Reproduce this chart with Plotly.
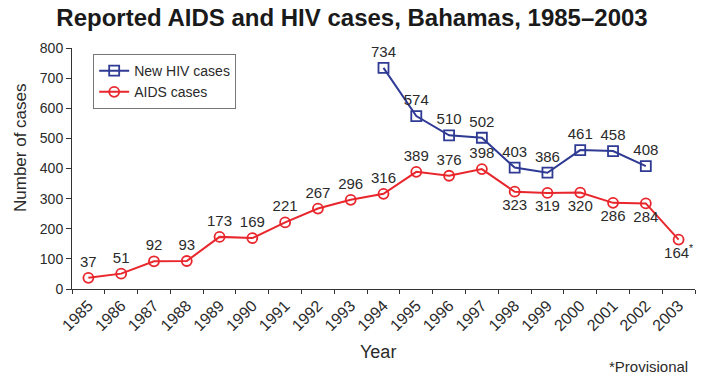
import plotly.graph_objects as go

years = [str(y) for y in range(1985, 2004)]
hiv_years = [str(y) for y in range(1994, 2003)]
hiv_cases = [734, 574, 510, 502, 403, 386, 461, 458, 408]
aids_cases = [37, 51, 92, 93, 173, 169, 221, 267, 296, 316,
              389, 376, 398, 323, 319, 320, 286, 284, 164]

blue = "#2E3A93"
red = "#E8262C"
txt = "#2a2a2a"
font = "Liberation Sans, Arial, sans-serif"

aids_text = [str(v) for v in aids_cases]
aids_text[-1] = aids_text[-1] + "<sup>*</sup>"
aids_pos = ["top center"] * 13 + ["bottom center"] * 6

fig = go.Figure()
fig.add_trace(go.Scatter(
    x=hiv_years, y=hiv_cases, name="New HIV cases",
    mode="lines+markers+text",
    line=dict(color=blue, width=2),
    marker=dict(symbol="square-open", size=10, color=blue, line=dict(width=1.8)),
    text=[str(v) for v in hiv_cases], textposition="top center",
    textfont=dict(family=font, size=15, color=txt),
    cliponaxis=False,
))
fig.add_trace(go.Scatter(
    x=years, y=aids_cases, name="AIDS cases",
    mode="lines+markers+text",
    line=dict(color=red, width=2),
    marker=dict(symbol="circle-open", size=10, color=red, line=dict(width=1.8)),
    text=aids_text, textposition=aids_pos,
    textfont=dict(family=font, size=15, color=txt),
    cliponaxis=False,
))

W, H = 704, 376
L, R, T, B = 72, 9, 48, 87
pw, ph = W - L - R, H - T - B

def px_x(x):
    return (x - L) / pw

def px_y(y):
    return (H - B - y) / ph

fig.update_layout(
    width=W, height=H,
    margin=dict(l=L, r=R, t=T, b=B),
    paper_bgcolor="white", plot_bgcolor="white",
    font=dict(family=font, size=14, color=txt),
    title=dict(text="<b>Reported AIDS and HIV cases, Bahamas, 1985–2003</b>",
               x=0.5, xanchor="center", y=0.952, yanchor="middle",
               font=dict(size=24, color="#1a1a1a")),
    showlegend=True,
    legend=dict(x=0.034, y=0.975, xanchor="left", yanchor="top",
                bordercolor="#777", borderwidth=1, bgcolor="white",
                font=dict(size=14, color=txt), tracegroupgap=0,
                itemwidth=30),
)
fig.update_xaxes(
    type="category", categoryorder="array", categoryarray=years,
    range=[-0.5, 18.5],
    showline=True, linecolor="#333", linewidth=1,
    ticks="outside", tickson="boundaries", ticklen=4, tickcolor="#333",
    tickangle=-45, tickfont=dict(size=16, color=txt),
    showgrid=False, zeroline=False,
)
fig.update_yaxes(
    range=[0, 800], dtick=100,
    showline=True, linecolor="#333", linewidth=1,
    ticks="outside", ticklen=5, tickcolor="#333",
    tickfont=dict(size=14, color=txt),
    showgrid=False, zeroline=False,
)

# axis titles and footnote
fig.add_annotation(
    text="Year", xref="paper", yref="paper",
    x=px_x(378), y=px_y(352), xanchor="center", yanchor="middle",
    showarrow=False, font=dict(size=18, color=txt),
)
fig.add_annotation(
    text="Number of cases", xref="paper", yref="paper",
    x=px_x(20), y=px_y(148), xanchor="center", yanchor="middle",
    textangle=-90, showarrow=False, font=dict(size=17, color=txt),
)
fig.add_annotation(
    text="*Provisional", xref="paper", yref="paper",
    x=0.992, y=-0.32, xanchor="right", yanchor="middle", showarrow=False,
    font=dict(size=15, color=txt),
)

fig.write_html("out.html")
